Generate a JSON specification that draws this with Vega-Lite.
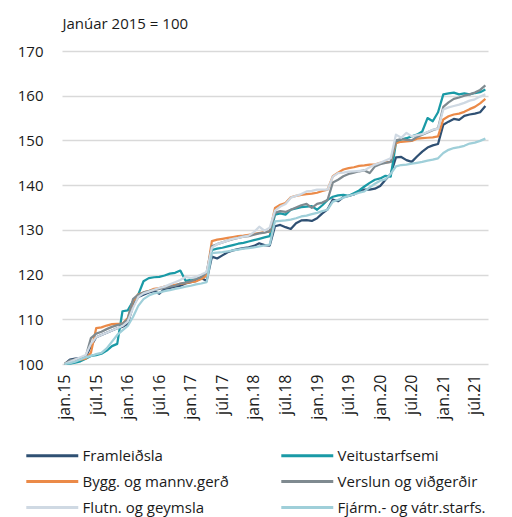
{
"$schema":"https://vega.github.io/schema/vega-lite/v6.json",
"width":426,"height":313,
"autosize":{"type":"none"},
"padding":{"left":62,"top":51,"right":24,"bottom":153},
"config":{"font":"Open Sans","view":{"stroke":null},"axis":{"labelColor":"#1a1a1a","titleColor":"#1a1a1a"},"legend":{"labelColor":"#1a1a1a"}},
"data":{"values":[
{"s":"Framleiðsla","m":"jan.15","v":100},{"s":"Framleiðsla","m":"feb.15","v":101.0},{"s":"Framleiðsla","m":"mar.15","v":101.2},{"s":"Framleiðsla","m":"apr.15","v":101.3},{"s":"Framleiðsla","m":"maí.15","v":101.5},{"s":"Framleiðsla","m":"jún.15","v":104.0},{"s":"Framleiðsla","m":"júl.15","v":106.0},{"s":"Framleiðsla","m":"ágú.15","v":106.5},{"s":"Framleiðsla","m":"sep.15","v":107.0},{"s":"Framleiðsla","m":"okt.15","v":107.5},{"s":"Framleiðsla","m":"nóv.15","v":108.0},{"s":"Framleiðsla","m":"des.15","v":108.3},
{"s":"Framleiðsla","m":"jan.16","v":109.0},{"s":"Framleiðsla","m":"feb.16","v":113.0},{"s":"Framleiðsla","m":"mar.16","v":115.0},{"s":"Framleiðsla","m":"apr.16","v":115.5},{"s":"Framleiðsla","m":"maí.16","v":116.0},{"s":"Framleiðsla","m":"jún.16","v":116.3},{"s":"Framleiðsla","m":"júl.16","v":115.7},{"s":"Framleiðsla","m":"ágú.16","v":116.8},{"s":"Framleiðsla","m":"sep.16","v":117.0},{"s":"Framleiðsla","m":"okt.16","v":117.3},{"s":"Framleiðsla","m":"nóv.16","v":117.5},{"s":"Framleiðsla","m":"des.16","v":118.0},
{"s":"Framleiðsla","m":"jan.17","v":118.3},{"s":"Framleiðsla","m":"feb.17","v":118.6},{"s":"Framleiðsla","m":"mar.17","v":119.2},{"s":"Framleiðsla","m":"apr.17","v":118.6},{"s":"Framleiðsla","m":"maí.17","v":124.0},{"s":"Framleiðsla","m":"jún.17","v":123.6},{"s":"Framleiðsla","m":"júl.17","v":124.3},{"s":"Framleiðsla","m":"ágú.17","v":125.0},{"s":"Framleiðsla","m":"sep.17","v":125.4},{"s":"Framleiðsla","m":"okt.17","v":125.7},{"s":"Framleiðsla","m":"nóv.17","v":125.9},{"s":"Framleiðsla","m":"des.17","v":126.1},
{"s":"Framleiðsla","m":"jan.18","v":126.4},{"s":"Framleiðsla","m":"feb.18","v":127.0},{"s":"Framleiðsla","m":"mar.18","v":126.6},{"s":"Framleiðsla","m":"apr.18","v":126.5},{"s":"Framleiðsla","m":"maí.18","v":130.8},{"s":"Framleiðsla","m":"jún.18","v":131.1},{"s":"Framleiðsla","m":"júl.18","v":130.6},{"s":"Framleiðsla","m":"ágú.18","v":130.2},{"s":"Framleiðsla","m":"sep.18","v":131.5},{"s":"Framleiðsla","m":"okt.18","v":132.1},{"s":"Framleiðsla","m":"nóv.18","v":132.2},{"s":"Framleiðsla","m":"des.18","v":132.0},
{"s":"Framleiðsla","m":"jan.19","v":132.6},{"s":"Framleiðsla","m":"feb.19","v":133.7},{"s":"Framleiðsla","m":"mar.19","v":134.6},{"s":"Framleiðsla","m":"apr.19","v":136.8},{"s":"Framleiðsla","m":"maí.19","v":136.4},{"s":"Framleiðsla","m":"jún.19","v":137.3},{"s":"Framleiðsla","m":"júl.19","v":137.6},{"s":"Framleiðsla","m":"ágú.19","v":137.9},{"s":"Framleiðsla","m":"sep.19","v":138.6},{"s":"Framleiðsla","m":"okt.19","v":139.0},{"s":"Framleiðsla","m":"nóv.19","v":139.0},{"s":"Framleiðsla","m":"des.19","v":139.2},
{"s":"Framleiðsla","m":"jan.20","v":139.8},{"s":"Framleiðsla","m":"feb.20","v":141.2},{"s":"Framleiðsla","m":"mar.20","v":142.5},{"s":"Framleiðsla","m":"apr.20","v":146.2},{"s":"Framleiðsla","m":"maí.20","v":146.3},{"s":"Framleiðsla","m":"jún.20","v":145.6},{"s":"Framleiðsla","m":"júl.20","v":145.2},{"s":"Framleiðsla","m":"ágú.20","v":146.4},{"s":"Framleiðsla","m":"sep.20","v":147.5},{"s":"Framleiðsla","m":"okt.20","v":148.4},{"s":"Framleiðsla","m":"nóv.20","v":148.9},{"s":"Framleiðsla","m":"des.20","v":149.2},
{"s":"Framleiðsla","m":"jan.21","v":153.5},{"s":"Framleiðsla","m":"feb.21","v":154.2},{"s":"Framleiðsla","m":"mar.21","v":154.8},{"s":"Framleiðsla","m":"apr.21","v":154.6},{"s":"Framleiðsla","m":"maí.21","v":155.5},{"s":"Framleiðsla","m":"jún.21","v":155.8},{"s":"Framleiðsla","m":"júl.21","v":156.0},{"s":"Framleiðsla","m":"ágú.21","v":156.3},{"s":"Framleiðsla","m":"sep.21","v":157.7},

{"s":"Veitustarfsemi","m":"jan.15","v":100},{"s":"Veitustarfsemi","m":"feb.15","v":100.1},{"s":"Veitustarfsemi","m":"mar.15","v":100.3},{"s":"Veitustarfsemi","m":"apr.15","v":100.6},{"s":"Veitustarfsemi","m":"maí.15","v":101.2},{"s":"Veitustarfsemi","m":"jún.15","v":101.8},{"s":"Veitustarfsemi","m":"júl.15","v":102.0},{"s":"Veitustarfsemi","m":"ágú.15","v":102.3},{"s":"Veitustarfsemi","m":"sep.15","v":103.0},{"s":"Veitustarfsemi","m":"okt.15","v":104.0},{"s":"Veitustarfsemi","m":"nóv.15","v":104.5},{"s":"Veitustarfsemi","m":"des.15","v":111.8},
{"s":"Veitustarfsemi","m":"jan.16","v":112.0},{"s":"Veitustarfsemi","m":"feb.16","v":114.0},{"s":"Veitustarfsemi","m":"mar.16","v":115.5},{"s":"Veitustarfsemi","m":"apr.16","v":118.5},{"s":"Veitustarfsemi","m":"maí.16","v":119.2},{"s":"Veitustarfsemi","m":"jún.16","v":119.4},{"s":"Veitustarfsemi","m":"júl.16","v":119.5},{"s":"Veitustarfsemi","m":"ágú.16","v":119.8},{"s":"Veitustarfsemi","m":"sep.16","v":120.2},{"s":"Veitustarfsemi","m":"okt.16","v":120.4},{"s":"Veitustarfsemi","m":"nóv.16","v":120.9},{"s":"Veitustarfsemi","m":"des.16","v":118.6},
{"s":"Veitustarfsemi","m":"jan.17","v":118.8},{"s":"Veitustarfsemi","m":"feb.17","v":119.0},{"s":"Veitustarfsemi","m":"mar.17","v":119.3},{"s":"Veitustarfsemi","m":"apr.17","v":119.8},{"s":"Veitustarfsemi","m":"maí.17","v":125.5},{"s":"Veitustarfsemi","m":"jún.17","v":125.8},{"s":"Veitustarfsemi","m":"júl.17","v":126.0},{"s":"Veitustarfsemi","m":"ágú.17","v":126.3},{"s":"Veitustarfsemi","m":"sep.17","v":126.6},{"s":"Veitustarfsemi","m":"okt.17","v":126.9},{"s":"Veitustarfsemi","m":"nóv.17","v":127.1},{"s":"Veitustarfsemi","m":"des.17","v":127.4},
{"s":"Veitustarfsemi","m":"jan.18","v":127.7},{"s":"Veitustarfsemi","m":"feb.18","v":128.0},{"s":"Veitustarfsemi","m":"mar.18","v":128.3},{"s":"Veitustarfsemi","m":"apr.18","v":128.6},{"s":"Veitustarfsemi","m":"maí.18","v":133.4},{"s":"Veitustarfsemi","m":"jún.18","v":133.7},{"s":"Veitustarfsemi","m":"júl.18","v":133.4},{"s":"Veitustarfsemi","m":"ágú.18","v":134.5},{"s":"Veitustarfsemi","m":"sep.18","v":134.8},{"s":"Veitustarfsemi","m":"okt.18","v":135.1},{"s":"Veitustarfsemi","m":"nóv.18","v":135.2},{"s":"Veitustarfsemi","m":"des.18","v":135.3},
{"s":"Veitustarfsemi","m":"jan.19","v":134.5},{"s":"Veitustarfsemi","m":"feb.19","v":135.5},{"s":"Veitustarfsemi","m":"mar.19","v":136.7},{"s":"Veitustarfsemi","m":"apr.19","v":137.4},{"s":"Veitustarfsemi","m":"maí.19","v":137.7},{"s":"Veitustarfsemi","m":"jún.19","v":137.8},{"s":"Veitustarfsemi","m":"júl.19","v":137.6},{"s":"Veitustarfsemi","m":"ágú.19","v":138.2},{"s":"Veitustarfsemi","m":"sep.19","v":138.8},{"s":"Veitustarfsemi","m":"okt.19","v":139.7},{"s":"Veitustarfsemi","m":"nóv.19","v":140.5},{"s":"Veitustarfsemi","m":"des.19","v":141.2},
{"s":"Veitustarfsemi","m":"jan.20","v":141.5},{"s":"Veitustarfsemi","m":"feb.20","v":142.1},{"s":"Veitustarfsemi","m":"mar.20","v":141.9},{"s":"Veitustarfsemi","m":"apr.20","v":149.5},{"s":"Veitustarfsemi","m":"maí.20","v":150.2},{"s":"Veitustarfsemi","m":"jún.20","v":150.5},{"s":"Veitustarfsemi","m":"júl.20","v":150.9},{"s":"Veitustarfsemi","m":"ágú.20","v":151.3},{"s":"Veitustarfsemi","m":"sep.20","v":152.0},{"s":"Veitustarfsemi","m":"okt.20","v":155.0},{"s":"Veitustarfsemi","m":"nóv.20","v":154.3},{"s":"Veitustarfsemi","m":"des.20","v":156.3},
{"s":"Veitustarfsemi","m":"jan.21","v":160.3},{"s":"Veitustarfsemi","m":"feb.21","v":160.5},{"s":"Veitustarfsemi","m":"mar.21","v":160.7},{"s":"Veitustarfsemi","m":"apr.21","v":160.3},{"s":"Veitustarfsemi","m":"maí.21","v":160.5},{"s":"Veitustarfsemi","m":"jún.21","v":160.3},{"s":"Veitustarfsemi","m":"júl.21","v":160.6},{"s":"Veitustarfsemi","m":"ágú.21","v":160.8},{"s":"Veitustarfsemi","m":"sep.21","v":161.4},

{"s":"Bygg. og mannv.gerð","m":"jan.15","v":100},{"s":"Bygg. og mannv.gerð","m":"feb.15","v":100.6},{"s":"Bygg. og mannv.gerð","m":"mar.15","v":101.0},{"s":"Bygg. og mannv.gerð","m":"apr.15","v":101.0},{"s":"Bygg. og mannv.gerð","m":"maí.15","v":101.2},{"s":"Bygg. og mannv.gerð","m":"jún.15","v":102.5},{"s":"Bygg. og mannv.gerð","m":"júl.15","v":108.0},{"s":"Bygg. og mannv.gerð","m":"ágú.15","v":108.2},{"s":"Bygg. og mannv.gerð","m":"sep.15","v":108.6},{"s":"Bygg. og mannv.gerð","m":"okt.15","v":108.9},{"s":"Bygg. og mannv.gerð","m":"nóv.15","v":109.0},{"s":"Bygg. og mannv.gerð","m":"des.15","v":109.0},
{"s":"Bygg. og mannv.gerð","m":"jan.16","v":110.3},{"s":"Bygg. og mannv.gerð","m":"feb.16","v":114.0},{"s":"Bygg. og mannv.gerð","m":"mar.16","v":115.6},{"s":"Bygg. og mannv.gerð","m":"apr.16","v":116.0},{"s":"Bygg. og mannv.gerð","m":"maí.16","v":116.3},{"s":"Bygg. og mannv.gerð","m":"jún.16","v":116.8},{"s":"Bygg. og mannv.gerð","m":"júl.16","v":117.0},{"s":"Bygg. og mannv.gerð","m":"ágú.16","v":117.3},{"s":"Bygg. og mannv.gerð","m":"sep.16","v":117.5},{"s":"Bygg. og mannv.gerð","m":"okt.16","v":117.7},{"s":"Bygg. og mannv.gerð","m":"nóv.16","v":117.9},{"s":"Bygg. og mannv.gerð","m":"des.16","v":118.1},
{"s":"Bygg. og mannv.gerð","m":"jan.17","v":118.3},{"s":"Bygg. og mannv.gerð","m":"feb.17","v":118.5},{"s":"Bygg. og mannv.gerð","m":"mar.17","v":119.0},{"s":"Bygg. og mannv.gerð","m":"apr.17","v":119.8},{"s":"Bygg. og mannv.gerð","m":"maí.17","v":127.5},{"s":"Bygg. og mannv.gerð","m":"jún.17","v":127.8},{"s":"Bygg. og mannv.gerð","m":"júl.17","v":128.0},{"s":"Bygg. og mannv.gerð","m":"ágú.17","v":128.2},{"s":"Bygg. og mannv.gerð","m":"sep.17","v":128.4},{"s":"Bygg. og mannv.gerð","m":"okt.17","v":128.6},{"s":"Bygg. og mannv.gerð","m":"nóv.17","v":128.7},{"s":"Bygg. og mannv.gerð","m":"des.17","v":128.9},
{"s":"Bygg. og mannv.gerð","m":"jan.18","v":129.1},{"s":"Bygg. og mannv.gerð","m":"feb.18","v":129.3},{"s":"Bygg. og mannv.gerð","m":"mar.18","v":129.5},{"s":"Bygg. og mannv.gerð","m":"apr.18","v":129.6},{"s":"Bygg. og mannv.gerð","m":"maí.18","v":134.9},{"s":"Bygg. og mannv.gerð","m":"jún.18","v":135.6},{"s":"Bygg. og mannv.gerð","m":"júl.18","v":136.0},{"s":"Bygg. og mannv.gerð","m":"ágú.18","v":137.3},{"s":"Bygg. og mannv.gerð","m":"sep.18","v":137.6},{"s":"Bygg. og mannv.gerð","m":"okt.18","v":137.8},{"s":"Bygg. og mannv.gerð","m":"nóv.18","v":138.0},{"s":"Bygg. og mannv.gerð","m":"des.18","v":138.1},
{"s":"Bygg. og mannv.gerð","m":"jan.19","v":138.3},{"s":"Bygg. og mannv.gerð","m":"feb.19","v":138.7},{"s":"Bygg. og mannv.gerð","m":"mar.19","v":139.0},{"s":"Bygg. og mannv.gerð","m":"apr.19","v":142.0},{"s":"Bygg. og mannv.gerð","m":"maí.19","v":142.8},{"s":"Bygg. og mannv.gerð","m":"jún.19","v":143.5},{"s":"Bygg. og mannv.gerð","m":"júl.19","v":143.8},{"s":"Bygg. og mannv.gerð","m":"ágú.19","v":144.0},{"s":"Bygg. og mannv.gerð","m":"sep.19","v":144.3},{"s":"Bygg. og mannv.gerð","m":"okt.19","v":144.4},{"s":"Bygg. og mannv.gerð","m":"nóv.19","v":144.6},{"s":"Bygg. og mannv.gerð","m":"des.19","v":144.6},
{"s":"Bygg. og mannv.gerð","m":"jan.20","v":145.0},{"s":"Bygg. og mannv.gerð","m":"feb.20","v":145.1},{"s":"Bygg. og mannv.gerð","m":"mar.20","v":145.2},{"s":"Bygg. og mannv.gerð","m":"apr.20","v":149.4},{"s":"Bygg. og mannv.gerð","m":"maí.20","v":149.7},{"s":"Bygg. og mannv.gerð","m":"jún.20","v":149.8},{"s":"Bygg. og mannv.gerð","m":"júl.20","v":149.9},{"s":"Bygg. og mannv.gerð","m":"ágú.20","v":150.4},{"s":"Bygg. og mannv.gerð","m":"sep.20","v":150.5},{"s":"Bygg. og mannv.gerð","m":"okt.20","v":150.6},{"s":"Bygg. og mannv.gerð","m":"nóv.20","v":150.7},{"s":"Bygg. og mannv.gerð","m":"des.20","v":150.9},
{"s":"Bygg. og mannv.gerð","m":"jan.21","v":154.7},{"s":"Bygg. og mannv.gerð","m":"feb.21","v":155.4},{"s":"Bygg. og mannv.gerð","m":"mar.21","v":155.8},{"s":"Bygg. og mannv.gerð","m":"apr.21","v":156.0},{"s":"Bygg. og mannv.gerð","m":"maí.21","v":156.4},{"s":"Bygg. og mannv.gerð","m":"jún.21","v":157.0},{"s":"Bygg. og mannv.gerð","m":"júl.21","v":157.5},{"s":"Bygg. og mannv.gerð","m":"ágú.21","v":158.3},{"s":"Bygg. og mannv.gerð","m":"sep.21","v":159.3},

{"s":"Verslun og viðgerðir","m":"jan.15","v":100},{"s":"Verslun og viðgerðir","m":"feb.15","v":100.8},{"s":"Verslun og viðgerðir","m":"mar.15","v":101.0},{"s":"Verslun og viðgerðir","m":"apr.15","v":101.2},{"s":"Verslun og viðgerðir","m":"maí.15","v":101.6},{"s":"Verslun og viðgerðir","m":"jún.15","v":105.8},{"s":"Verslun og viðgerðir","m":"júl.15","v":106.8},{"s":"Verslun og viðgerðir","m":"ágú.15","v":107.2},{"s":"Verslun og viðgerðir","m":"sep.15","v":107.8},{"s":"Verslun og viðgerðir","m":"okt.15","v":108.3},{"s":"Verslun og viðgerðir","m":"nóv.15","v":108.7},{"s":"Verslun og viðgerðir","m":"des.15","v":109.0},
{"s":"Verslun og viðgerðir","m":"jan.16","v":110.0},{"s":"Verslun og viðgerðir","m":"feb.16","v":114.5},{"s":"Verslun og viðgerðir","m":"mar.16","v":115.5},{"s":"Verslun og viðgerðir","m":"apr.16","v":116.0},{"s":"Verslun og viðgerðir","m":"maí.16","v":116.3},{"s":"Verslun og viðgerðir","m":"jún.16","v":116.5},{"s":"Verslun og viðgerðir","m":"júl.16","v":116.8},{"s":"Verslun og viðgerðir","m":"ágú.16","v":117.0},{"s":"Verslun og viðgerðir","m":"sep.16","v":117.3},{"s":"Verslun og viðgerðir","m":"okt.16","v":117.5},{"s":"Verslun og viðgerðir","m":"nóv.16","v":118.0},{"s":"Verslun og viðgerðir","m":"des.16","v":118.2},
{"s":"Verslun og viðgerðir","m":"jan.17","v":118.5},{"s":"Verslun og viðgerðir","m":"feb.17","v":119.0},{"s":"Verslun og viðgerðir","m":"mar.17","v":119.5},{"s":"Verslun og viðgerðir","m":"apr.17","v":120.5},{"s":"Verslun og viðgerðir","m":"maí.17","v":126.3},{"s":"Verslun og viðgerðir","m":"jún.17","v":126.8},{"s":"Verslun og viðgerðir","m":"júl.17","v":127.2},{"s":"Verslun og viðgerðir","m":"ágú.17","v":127.6},{"s":"Verslun og viðgerðir","m":"sep.17","v":127.9},{"s":"Verslun og viðgerðir","m":"okt.17","v":128.2},{"s":"Verslun og viðgerðir","m":"nóv.17","v":128.5},{"s":"Verslun og viðgerðir","m":"des.17","v":128.6},
{"s":"Verslun og viðgerðir","m":"jan.18","v":128.9},{"s":"Verslun og viðgerðir","m":"feb.18","v":129.2},{"s":"Verslun og viðgerðir","m":"mar.18","v":129.4},{"s":"Verslun og viðgerðir","m":"apr.18","v":129.7},{"s":"Verslun og viðgerðir","m":"maí.18","v":133.8},{"s":"Verslun og viðgerðir","m":"jún.18","v":134.2},{"s":"Verslun og viðgerðir","m":"júl.18","v":134.0},{"s":"Verslun og viðgerðir","m":"ágú.18","v":134.5},{"s":"Verslun og viðgerðir","m":"sep.18","v":135.0},{"s":"Verslun og viðgerðir","m":"okt.18","v":135.5},{"s":"Verslun og viðgerðir","m":"nóv.18","v":135.8},{"s":"Verslun og viðgerðir","m":"des.18","v":134.9},
{"s":"Verslun og viðgerðir","m":"jan.19","v":135.8},{"s":"Verslun og viðgerðir","m":"feb.19","v":136.1},{"s":"Verslun og viðgerðir","m":"mar.19","v":136.7},{"s":"Verslun og viðgerðir","m":"apr.19","v":140.6},{"s":"Verslun og viðgerðir","m":"maí.19","v":141.2},{"s":"Verslun og viðgerðir","m":"jún.19","v":142.0},{"s":"Verslun og viðgerðir","m":"júl.19","v":142.5},{"s":"Verslun og viðgerðir","m":"ágú.19","v":142.8},{"s":"Verslun og viðgerðir","m":"sep.19","v":143.1},{"s":"Verslun og viðgerðir","m":"okt.19","v":143.3},{"s":"Verslun og viðgerðir","m":"nóv.19","v":142.7},{"s":"Verslun og viðgerðir","m":"des.19","v":144.2},
{"s":"Verslun og viðgerðir","m":"jan.20","v":144.7},{"s":"Verslun og viðgerðir","m":"feb.20","v":145.0},{"s":"Verslun og viðgerðir","m":"mar.20","v":145.2},{"s":"Verslun og viðgerðir","m":"apr.20","v":150.0},{"s":"Verslun og viðgerðir","m":"maí.20","v":150.3},{"s":"Verslun og viðgerðir","m":"jún.20","v":150.1},{"s":"Verslun og viðgerðir","m":"júl.20","v":150.0},{"s":"Verslun og viðgerðir","m":"ágú.20","v":150.8},{"s":"Verslun og viðgerðir","m":"sep.20","v":151.3},{"s":"Verslun og viðgerðir","m":"okt.20","v":151.8},{"s":"Verslun og viðgerðir","m":"nóv.20","v":152.3},{"s":"Verslun og viðgerðir","m":"des.20","v":152.7},
{"s":"Verslun og viðgerðir","m":"jan.21","v":157.5},{"s":"Verslun og viðgerðir","m":"feb.21","v":158.5},{"s":"Verslun og viðgerðir","m":"mar.21","v":159.3},{"s":"Verslun og viðgerðir","m":"apr.21","v":159.6},{"s":"Verslun og viðgerðir","m":"maí.21","v":160.0},{"s":"Verslun og viðgerðir","m":"jún.21","v":160.3},{"s":"Verslun og viðgerðir","m":"júl.21","v":160.7},{"s":"Verslun og viðgerðir","m":"ágú.21","v":161.3},{"s":"Verslun og viðgerðir","m":"sep.21","v":162.3},

{"s":"Flutn. og geymsla","m":"jan.15","v":100},{"s":"Flutn. og geymsla","m":"feb.15","v":100.5},{"s":"Flutn. og geymsla","m":"mar.15","v":101.0},{"s":"Flutn. og geymsla","m":"apr.15","v":101.5},{"s":"Flutn. og geymsla","m":"maí.15","v":102.0},{"s":"Flutn. og geymsla","m":"jún.15","v":104.5},{"s":"Flutn. og geymsla","m":"júl.15","v":106.0},{"s":"Flutn. og geymsla","m":"ágú.15","v":106.5},{"s":"Flutn. og geymsla","m":"sep.15","v":107.0},{"s":"Flutn. og geymsla","m":"okt.15","v":107.5},{"s":"Flutn. og geymsla","m":"nóv.15","v":108.0},{"s":"Flutn. og geymsla","m":"des.15","v":108.5},
{"s":"Flutn. og geymsla","m":"jan.16","v":109.5},{"s":"Flutn. og geymsla","m":"feb.16","v":112.5},{"s":"Flutn. og geymsla","m":"mar.16","v":115.0},{"s":"Flutn. og geymsla","m":"apr.16","v":115.8},{"s":"Flutn. og geymsla","m":"maí.16","v":116.2},{"s":"Flutn. og geymsla","m":"jún.16","v":116.6},{"s":"Flutn. og geymsla","m":"júl.16","v":117.0},{"s":"Flutn. og geymsla","m":"ágú.16","v":117.3},{"s":"Flutn. og geymsla","m":"sep.16","v":117.8},{"s":"Flutn. og geymsla","m":"okt.16","v":118.3},{"s":"Flutn. og geymsla","m":"nóv.16","v":118.8},{"s":"Flutn. og geymsla","m":"des.16","v":119.5},
{"s":"Flutn. og geymsla","m":"jan.17","v":119.2},{"s":"Flutn. og geymsla","m":"feb.17","v":119.5},{"s":"Flutn. og geymsla","m":"mar.17","v":120.0},{"s":"Flutn. og geymsla","m":"apr.17","v":120.6},{"s":"Flutn. og geymsla","m":"maí.17","v":126.0},{"s":"Flutn. og geymsla","m":"jún.17","v":126.8},{"s":"Flutn. og geymsla","m":"júl.17","v":127.2},{"s":"Flutn. og geymsla","m":"ágú.17","v":127.6},{"s":"Flutn. og geymsla","m":"sep.17","v":128.0},{"s":"Flutn. og geymsla","m":"okt.17","v":128.2},{"s":"Flutn. og geymsla","m":"nóv.17","v":128.5},{"s":"Flutn. og geymsla","m":"des.17","v":128.7},
{"s":"Flutn. og geymsla","m":"jan.18","v":129.5},{"s":"Flutn. og geymsla","m":"feb.18","v":130.7},{"s":"Flutn. og geymsla","m":"mar.18","v":129.8},{"s":"Flutn. og geymsla","m":"apr.18","v":130.5},{"s":"Flutn. og geymsla","m":"maí.18","v":134.3},{"s":"Flutn. og geymsla","m":"jún.18","v":135.2},{"s":"Flutn. og geymsla","m":"júl.18","v":135.8},{"s":"Flutn. og geymsla","m":"ágú.18","v":137.2},{"s":"Flutn. og geymsla","m":"sep.18","v":137.6},{"s":"Flutn. og geymsla","m":"okt.18","v":138.0},{"s":"Flutn. og geymsla","m":"nóv.18","v":138.6},{"s":"Flutn. og geymsla","m":"des.18","v":138.7},
{"s":"Flutn. og geymsla","m":"jan.19","v":139.0},{"s":"Flutn. og geymsla","m":"feb.19","v":139.0},{"s":"Flutn. og geymsla","m":"mar.19","v":139.0},{"s":"Flutn. og geymsla","m":"apr.19","v":141.9},{"s":"Flutn. og geymsla","m":"maí.19","v":142.7},{"s":"Flutn. og geymsla","m":"jún.19","v":142.8},{"s":"Flutn. og geymsla","m":"júl.19","v":143.0},{"s":"Flutn. og geymsla","m":"ágú.19","v":143.1},{"s":"Flutn. og geymsla","m":"sep.19","v":143.2},{"s":"Flutn. og geymsla","m":"okt.19","v":143.3},{"s":"Flutn. og geymsla","m":"nóv.19","v":144.0},{"s":"Flutn. og geymsla","m":"des.19","v":144.6},
{"s":"Flutn. og geymsla","m":"jan.20","v":145.0},{"s":"Flutn. og geymsla","m":"feb.20","v":145.5},{"s":"Flutn. og geymsla","m":"mar.20","v":146.0},{"s":"Flutn. og geymsla","m":"apr.20","v":151.3},{"s":"Flutn. og geymsla","m":"maí.20","v":150.6},{"s":"Flutn. og geymsla","m":"jún.20","v":151.7},{"s":"Flutn. og geymsla","m":"júl.20","v":150.9},{"s":"Flutn. og geymsla","m":"ágú.20","v":151.2},{"s":"Flutn. og geymsla","m":"sep.20","v":151.4},{"s":"Flutn. og geymsla","m":"okt.20","v":151.9},{"s":"Flutn. og geymsla","m":"nóv.20","v":152.4},{"s":"Flutn. og geymsla","m":"des.20","v":152.6},
{"s":"Flutn. og geymsla","m":"jan.21","v":156.9},{"s":"Flutn. og geymsla","m":"feb.21","v":157.4},{"s":"Flutn. og geymsla","m":"mar.21","v":157.7},{"s":"Flutn. og geymsla","m":"apr.21","v":158.0},{"s":"Flutn. og geymsla","m":"maí.21","v":158.4},{"s":"Flutn. og geymsla","m":"jún.21","v":158.9},{"s":"Flutn. og geymsla","m":"júl.21","v":159.2},{"s":"Flutn. og geymsla","m":"ágú.21","v":159.8},{"s":"Flutn. og geymsla","m":"sep.21","v":160.3},

{"s":"Fjárm.- og vátr.starfs.","m":"jan.15","v":100},{"s":"Fjárm.- og vátr.starfs.","m":"feb.15","v":100.2},{"s":"Fjárm.- og vátr.starfs.","m":"mar.15","v":100.5},{"s":"Fjárm.- og vátr.starfs.","m":"apr.15","v":101.0},{"s":"Fjárm.- og vátr.starfs.","m":"maí.15","v":101.5},{"s":"Fjárm.- og vátr.starfs.","m":"jún.15","v":101.8},{"s":"Fjárm.- og vátr.starfs.","m":"júl.15","v":102.2},{"s":"Fjárm.- og vátr.starfs.","m":"ágú.15","v":102.5},{"s":"Fjárm.- og vátr.starfs.","m":"sep.15","v":103.5},{"s":"Fjárm.- og vátr.starfs.","m":"okt.15","v":105.0},{"s":"Fjárm.- og vátr.starfs.","m":"nóv.15","v":106.5},{"s":"Fjárm.- og vátr.starfs.","m":"des.15","v":107.5},
{"s":"Fjárm.- og vátr.starfs.","m":"jan.16","v":108.5},{"s":"Fjárm.- og vátr.starfs.","m":"feb.16","v":110.5},{"s":"Fjárm.- og vátr.starfs.","m":"mar.16","v":113.0},{"s":"Fjárm.- og vátr.starfs.","m":"apr.16","v":114.5},{"s":"Fjárm.- og vátr.starfs.","m":"maí.16","v":115.3},{"s":"Fjárm.- og vátr.starfs.","m":"jún.16","v":115.8},{"s":"Fjárm.- og vátr.starfs.","m":"júl.16","v":116.0},{"s":"Fjárm.- og vátr.starfs.","m":"ágú.16","v":116.3},{"s":"Fjárm.- og vátr.starfs.","m":"sep.16","v":116.5},{"s":"Fjárm.- og vátr.starfs.","m":"okt.16","v":116.8},{"s":"Fjárm.- og vátr.starfs.","m":"nóv.16","v":117.0},{"s":"Fjárm.- og vátr.starfs.","m":"des.16","v":117.3},
{"s":"Fjárm.- og vátr.starfs.","m":"jan.17","v":117.5},{"s":"Fjárm.- og vátr.starfs.","m":"feb.17","v":117.8},{"s":"Fjárm.- og vátr.starfs.","m":"mar.17","v":118.0},{"s":"Fjárm.- og vátr.starfs.","m":"apr.17","v":118.3},{"s":"Fjárm.- og vátr.starfs.","m":"maí.17","v":124.8},{"s":"Fjárm.- og vátr.starfs.","m":"jún.17","v":124.9},{"s":"Fjárm.- og vátr.starfs.","m":"júl.17","v":125.0},{"s":"Fjárm.- og vátr.starfs.","m":"ágú.17","v":125.2},{"s":"Fjárm.- og vátr.starfs.","m":"sep.17","v":125.4},{"s":"Fjárm.- og vátr.starfs.","m":"okt.17","v":125.6},{"s":"Fjárm.- og vátr.starfs.","m":"nóv.17","v":125.8},{"s":"Fjárm.- og vátr.starfs.","m":"des.17","v":125.9},
{"s":"Fjárm.- og vátr.starfs.","m":"jan.18","v":126.1},{"s":"Fjárm.- og vátr.starfs.","m":"feb.18","v":126.3},{"s":"Fjárm.- og vátr.starfs.","m":"mar.18","v":126.5},{"s":"Fjárm.- og vátr.starfs.","m":"apr.18","v":126.7},{"s":"Fjárm.- og vátr.starfs.","m":"maí.18","v":131.9},{"s":"Fjárm.- og vátr.starfs.","m":"jún.18","v":132.0},{"s":"Fjárm.- og vátr.starfs.","m":"júl.18","v":132.1},{"s":"Fjárm.- og vátr.starfs.","m":"ágú.18","v":132.3},{"s":"Fjárm.- og vátr.starfs.","m":"sep.18","v":132.6},{"s":"Fjárm.- og vátr.starfs.","m":"okt.18","v":133.0},{"s":"Fjárm.- og vátr.starfs.","m":"nóv.18","v":133.2},{"s":"Fjárm.- og vátr.starfs.","m":"des.18","v":133.5},
{"s":"Fjárm.- og vátr.starfs.","m":"jan.19","v":133.8},{"s":"Fjárm.- og vátr.starfs.","m":"feb.19","v":134.2},{"s":"Fjárm.- og vátr.starfs.","m":"mar.19","v":134.5},{"s":"Fjárm.- og vátr.starfs.","m":"apr.19","v":136.3},{"s":"Fjárm.- og vátr.starfs.","m":"maí.19","v":136.7},{"s":"Fjárm.- og vátr.starfs.","m":"jún.19","v":137.2},{"s":"Fjárm.- og vátr.starfs.","m":"júl.19","v":137.6},{"s":"Fjárm.- og vátr.starfs.","m":"ágú.19","v":137.9},{"s":"Fjárm.- og vátr.starfs.","m":"sep.19","v":138.3},{"s":"Fjárm.- og vátr.starfs.","m":"okt.19","v":138.6},{"s":"Fjárm.- og vátr.starfs.","m":"nóv.19","v":139.5},{"s":"Fjárm.- og vátr.starfs.","m":"des.19","v":140.3},
{"s":"Fjárm.- og vátr.starfs.","m":"jan.20","v":141.0},{"s":"Fjárm.- og vátr.starfs.","m":"feb.20","v":141.3},{"s":"Fjárm.- og vátr.starfs.","m":"mar.20","v":142.5},{"s":"Fjárm.- og vátr.starfs.","m":"apr.20","v":144.2},{"s":"Fjárm.- og vátr.starfs.","m":"maí.20","v":144.5},{"s":"Fjárm.- og vátr.starfs.","m":"jún.20","v":144.6},{"s":"Fjárm.- og vátr.starfs.","m":"júl.20","v":144.8},{"s":"Fjárm.- og vátr.starfs.","m":"ágú.20","v":145.0},{"s":"Fjárm.- og vátr.starfs.","m":"sep.20","v":145.2},{"s":"Fjárm.- og vátr.starfs.","m":"okt.20","v":145.5},{"s":"Fjárm.- og vátr.starfs.","m":"nóv.20","v":145.7},{"s":"Fjárm.- og vátr.starfs.","m":"des.20","v":146.0},
{"s":"Fjárm.- og vátr.starfs.","m":"jan.21","v":147.2},{"s":"Fjárm.- og vátr.starfs.","m":"feb.21","v":147.9},{"s":"Fjárm.- og vátr.starfs.","m":"mar.21","v":148.3},{"s":"Fjárm.- og vátr.starfs.","m":"apr.21","v":148.5},{"s":"Fjárm.- og vátr.starfs.","m":"maí.21","v":148.8},{"s":"Fjárm.- og vátr.starfs.","m":"jún.21","v":149.3},{"s":"Fjárm.- og vátr.starfs.","m":"júl.21","v":149.5},{"s":"Fjárm.- og vátr.starfs.","m":"ágú.21","v":149.9},{"s":"Fjárm.- og vátr.starfs.","m":"sep.21","v":150.4}
]},
"mark":{"type":"line","strokeWidth":2.25,"strokeJoin":"round"},
"encoding":{
"x":{"field":"m","type":"ordinal","sort":null,"scale":{"type":"point","padding":0.5},
 "axis":{"values":["jan.15","júl.15","jan.16","júl.16","jan.17","júl.17","jan.18","júl.18","jan.19","júl.19","jan.20","júl.20","jan.21","júl.21"],"labelAngle":-90,"ticks":false,"domain":false,"grid":false,"labelFontSize":16,"labelPadding":10,"title":null}},
"y":{"field":"v","type":"quantitative","scale":{"domain":[100,170],"nice":false,"zero":false},
 "axis":{"values":[100,110,120,130,140,150,160,170],"grid":true,"gridColor":"#D9D9D9","gridWidth":1.5,"domain":false,"ticks":false,"labelPadding":19,"labelFontSize":15,"title":"Janúar 2015 = 100","titleAngle":0,"titleAlign":"left","titleBaseline":"alphabetic","titleX":0,"titleY":-23,"titleFontWeight":"normal","titleFontSize":15}},
"color":{"field":"s","type":"nominal",
 "scale":{"domain":["Framleiðsla","Bygg. og mannv.gerð","Flutn. og geymsla","Veitustarfsemi","Verslun og viðgerðir","Fjárm.- og vátr.starfs."],"range":["#2F5073","#EB8A48","#CFD9E3","#1A9AA6","#7F8A90","#9FCFD9"]},
 "legend":{"orient":"none","legendX":-38,"legendY":397,"columns":2,"title":null,"symbolType":"M-1,0H9","symbolSize":108,"symbolStrokeWidth":3,"labelFontSize":15,"labelOffset":43.6,"columnPadding":46,"rowPadding":10,"labelLimit":300}}
}
}
